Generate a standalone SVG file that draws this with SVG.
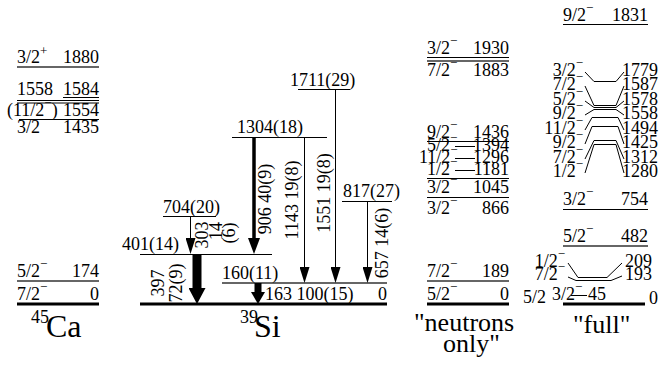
<svg xmlns="http://www.w3.org/2000/svg" width="666" height="372" viewBox="0 0 666 372">
<style>
text{font-family:"Liberation Serif","Times New Roman",serif;font-size:18px;fill:#000}
.s{font-size:13px}
.big{font-size:32px}
.mid{font-size:26px}
.sup{font-size:18px}
.lv{stroke:#000;stroke-width:1;fill:none}
.lg{stroke:#666;stroke-width:2;fill:none}
.gs{stroke:#000;stroke-width:3;fill:none}
.ar{stroke:#000;stroke-width:1;fill:none}
</style>
<defs>
<marker id="ah" viewBox="0 0 16 10" markerWidth="16" markerHeight="10" refX="0" refY="5" orient="auto" markerUnits="userSpaceOnUse"><path d="M0,0 L16,5 L0,10 z" fill="#000"/></marker>
<marker id="ahm" viewBox="0 0 16 12" markerWidth="16" markerHeight="12" refX="0" refY="6" orient="auto" markerUnits="userSpaceOnUse"><path d="M0,0 L16,6 L0,12 z" fill="#000"/></marker>
<marker id="ahb" viewBox="0 0 16 17" markerWidth="16" markerHeight="17" refX="0" refY="8.5" orient="auto" markerUnits="userSpaceOnUse"><path d="M0,0 L16,8.5 L0,17 z" fill="#000"/></marker>
<marker id="ahc" viewBox="0 0 12 14" markerWidth="12" markerHeight="14" refX="0" refY="7" orient="auto" markerUnits="userSpaceOnUse"><path d="M0,0 L12,7 L0,14 z" fill="#000"/></marker>
</defs>

<!-- 45Ca -->
<g id="ca45">
<g id="ca-1880"><text x="17" y="63">3/2<tspan class="s" dy="-8">+</tspan></text><text x="99" y="63" text-anchor="end">1880</text><line class="lg" x1="17" y1="67" x2="99" y2="67"/></g>
<g id="ca-1584"><text x="17" y="95">1558</text><text x="99" y="95" text-anchor="end">1584</text><line class="lv" x1="63" y1="97.5" x2="99" y2="97.5"/><line class="lv" x1="17" y1="100.5" x2="99" y2="100.5"/><line class="lv" x1="17" y1="103" x2="99" y2="103"/></g>
<g id="ca-1554"><text x="7" y="116">(11/2<tspan class="s" dy="-9">−</tspan><tspan dy="9">)</tspan></text><text x="99" y="116" text-anchor="end">1554</text><line class="lv" x1="19" y1="119.5" x2="99" y2="119.5"/></g>
<g id="ca-1435"><text x="17" y="133">3/2<tspan class="s" dy="-9">−</tspan></text><text x="99" y="133" text-anchor="end">1435</text></g>
<g id="ca-174"><text x="17" y="277">5/2<tspan class="s" dy="-9">−</tspan></text><text x="99" y="277" text-anchor="end">174</text><line class="lg" x1="17" y1="281" x2="99" y2="281"/></g>
<g id="ca-0"><text x="17" y="300">7/2<tspan class="s" dy="-9">−</tspan></text><text x="99" y="300" text-anchor="end">0</text><line class="gs" x1="17" y1="304" x2="99" y2="304"/></g>
<g id="ca-title"><text x="31" y="323" class="sup">45</text><text x="46" y="337" class="big">Ca</text></g>
</g>

<!-- 39Si -->
<g id="si39">
<g id="si-0"><line class="gs" x1="140" y1="304" x2="387" y2="304"/><text x="387" y="300" text-anchor="end">0</text></g>
<g id="si-160"><line class="lg" x1="222" y1="283" x2="387" y2="283"/><text x="222" y="279">160(11)</text></g>
<g id="si-401"><line class="lv" x1="140" y1="254.5" x2="272" y2="254.5"/><text x="122" y="250">401(14)</text></g>
<g id="si-704"><line class="lv" x1="163" y1="216.5" x2="216" y2="216.5"/><text x="163" y="213">704(20)</text></g>
<g id="si-817"><line class="lv" x1="342" y1="201.5" x2="392" y2="201.5"/><text x="343" y="197">817(27)</text></g>
<g id="si-1304"><line class="lv" x1="232" y1="137.5" x2="327" y2="137.5"/><text x="237" y="133">1304(18)</text></g>
<g id="si-1711"><line class="lv" x1="298" y1="89.5" x2="350" y2="89.5"/><text x="290" y="86">1711(29)</text></g>
<g id="si-title"><text x="240" y="323" class="sup">39</text><text x="254" y="337" class="big">Si</text></g>
</g>

<!-- transitions -->
<g id="connectors">
<line x1="197" y1="254" x2="197" y2="288" stroke="#000" stroke-width="9" marker-end="url(#ahb)"/>
<line x1="258" y1="283" x2="258" y2="292" stroke="#000" stroke-width="7" marker-end="url(#ahc)"/>
<line x1="254" y1="137" x2="254" y2="238" stroke="#000" stroke-width="3.5" marker-end="url(#ahm)"/>
<line class="ar" x1="190.5" y1="216" x2="190.5" y2="238" marker-end="url(#ah)"/>
<line class="ar" x1="304.5" y1="137" x2="304.5" y2="267" marker-end="url(#ah)"/>
<line class="ar" x1="335.5" y1="89" x2="335.5" y2="267" marker-end="url(#ah)"/>
<line class="ar" x1="367.5" y1="201" x2="367.5" y2="267" marker-end="url(#ah)"/>
</g>

<g id="transition-labels">
<text transform="translate(164,283) rotate(-90)" text-anchor="middle">397</text>
<text transform="translate(182,283) rotate(-90)" text-anchor="middle">72(9)</text>
<text x="265" y="300">163 100(15)</text>
<text transform="translate(208,235) rotate(-90)" text-anchor="middle">303</text>
<text transform="translate(222,231) rotate(-90)" text-anchor="middle">14</text>
<text transform="translate(235,233) rotate(-90)" text-anchor="middle">(6)</text>
<text transform="translate(271,199) rotate(-90)" text-anchor="middle">906 40(9)</text>
<text transform="translate(298,200) rotate(-90)" text-anchor="middle">1143 19(8)</text>
<text transform="translate(330,193) rotate(-90)" text-anchor="middle">1551 19(8)</text>
<text transform="translate(388,243) rotate(-90)" text-anchor="middle">657 14(6)</text>
</g>

<!-- neutrons only -->
<g id="neutrons">
<g id="n-1930"><text x="427" y="54">3/2<tspan class="s" dy="-9">−</tspan></text><text x="509" y="54" text-anchor="end">1930</text><line class="lv" x1="427" y1="57.5" x2="509" y2="57.5"/></g>
<g id="n-1883"><line class="lg" x1="427" y1="61" x2="509" y2="61"/><text x="427" y="76">7/2<tspan class="s" dy="-9">−</tspan></text><text x="509" y="76" text-anchor="end">1883</text></g>
<g id="n-1436"><text x="427" y="138">9/2<tspan class="s" dy="-9">−</tspan></text><text x="509" y="138" text-anchor="end">1436</text><line class="lv" x1="427" y1="141.5" x2="509" y2="141.5"/></g>
<g id="n-1394"><text x="427" y="151">5/2<tspan class="s" dy="-9">−</tspan></text><text x="509" y="151" text-anchor="end">1394</text><line class="lv" x1="455" y1="146.5" x2="475" y2="146.5"/></g>
<g id="n-1296"><text x="419" y="163">11/2<tspan class="s" dy="-9">−</tspan></text><text x="509" y="163" text-anchor="end">1296</text><line class="lv" x1="455" y1="158.5" x2="475" y2="158.5"/></g>
<g id="n-1181"><text x="427" y="175">1/2<tspan class="s" dy="-9">−</tspan></text><text x="509" y="175" text-anchor="end">1181</text><line class="lv" x1="455" y1="170.5" x2="475" y2="170.5"/><line class="lv" x1="427" y1="178.5" x2="509" y2="178.5"/></g>
<g id="n-1045"><text x="427" y="193">3/2<tspan class="s" dy="-9">−</tspan></text><text x="509" y="193" text-anchor="end">1045</text><line class="lv" x1="427" y1="197.5" x2="509" y2="197.5"/></g>
<g id="n-866"><text x="427" y="214">3/2<tspan class="s" dy="-9">−</tspan></text><text x="509" y="214" text-anchor="end">866</text></g>
<g id="n-189"><text x="427" y="277">7/2<tspan class="s" dy="-9">−</tspan></text><text x="509" y="277" text-anchor="end">189</text><line class="lg" x1="427" y1="281" x2="509" y2="281"/></g>
<g id="n-0"><text x="427" y="300">5/2<tspan class="s" dy="-9">−</tspan></text><text x="509" y="300" text-anchor="end">0</text><line class="gs" x1="427" y1="304" x2="509" y2="304"/></g>
<g id="n-title"><text x="414" y="331" class="mid">"neutrons</text><text x="443" y="352" class="mid">only"</text></g>
</g>

<!-- full -->
<g id="full">
<g id="f-1831"><text x="563" y="21">9/2<tspan class="s" dy="-9">−</tspan></text><text x="648" y="21" text-anchor="end">1831</text><line class="lv" x1="563" y1="24.5" x2="648" y2="24.5"/></g>
<g id="f-1779"><text x="583" y="76" text-anchor="end">3/2<tspan class="s" dy="-9">−</tspan></text><text x="622" y="76">1779</text><polyline class="lv" points="585,72 594,81.5 616,81.5 624,72"/></g>
<g id="f-1587"><text x="583" y="90" text-anchor="end">7/2<tspan class="s" dy="-9">−</tspan></text><text x="622" y="90">1587</text><polyline class="lv" points="585,86 594,105.5 616,105.5 624,86"/></g>
<g id="f-1578"><text x="583" y="105" text-anchor="end">5/2<tspan class="s" dy="-9">−</tspan></text><text x="622" y="105">1578</text><polyline class="lv" points="585,101 594,107.5 616,107.5 624,101"/></g>
<g id="f-1558"><text x="583" y="119" text-anchor="end">9/2<tspan class="s" dy="-9">−</tspan></text><text x="622" y="119">1558</text><polyline class="lv" points="585,115 594,109.5 616,109.5 624,115"/></g>
<g id="f-1494"><text x="583" y="134" text-anchor="end">11/2<tspan class="s" dy="-9">−</tspan></text><text x="622" y="134">1494</text><polyline class="lv" points="585,130 592,117.5 618,117.5 624,130"/></g>
<g id="f-1425"><text x="583" y="148" text-anchor="end">9/2<tspan class="s" dy="-9">−</tspan></text><text x="622" y="148">1425</text><polyline class="lv" points="585,144 592,126.5 618,126.5 624,144"/></g>
<g id="f-1312"><text x="583" y="163" text-anchor="end">7/2<tspan class="s" dy="-9">−</tspan></text><text x="622" y="163">1312</text><polyline class="lv" points="585,159 594,140.5 616,140.5 624,159"/></g>
<g id="f-1280"><text x="583" y="177" text-anchor="end">1/2<tspan class="s" dy="-9">−</tspan></text><text x="622" y="177">1280</text><polyline class="lv" points="585,173 594,144.5 616,144.5 624,173"/></g>
<g id="f-754"><text x="563" y="205">3/2<tspan class="s" dy="-9">−</tspan></text><text x="648" y="205" text-anchor="end">754</text><line class="lv" x1="563" y1="209.5" x2="648" y2="209.5"/></g>
<g id="f-482"><text x="563" y="242">5/2<tspan class="s" dy="-9">−</tspan></text><text x="648" y="242" text-anchor="end">482</text><line class="lg" x1="563" y1="246" x2="648" y2="246"/></g>
<g id="f-209"><text x="565" y="267" text-anchor="end">1/2<tspan class="s" dy="-9">−</tspan></text><text x="625" y="267">209</text><polyline class="lv" points="568,263 578,277.5 607,277.5 622,263"/></g>
<g id="f-193"><text x="565" y="280" text-anchor="end">7/2<tspan class="s" dy="-9">−</tspan></text><text x="625" y="280">193</text><polyline class="lv" points="568,277 576,280.5 611,280.5 622,276"/></g>
<g id="f-45"><text x="552" y="300">3/2<tspan class="s" dy="-9">−</tspan></text><line class="lv" x1="571" y1="295.5" x2="587" y2="295.5"/><text x="588" y="300">45</text></g>
<g id="f-0"><text x="523" y="303">5/2</text><line class="gs" x1="563" y1="304" x2="645" y2="304"/><text x="649" y="304">0</text></g>
<g id="f-title"><text x="573" y="333" class="mid">"full"</text></g>
</g>
</svg>
